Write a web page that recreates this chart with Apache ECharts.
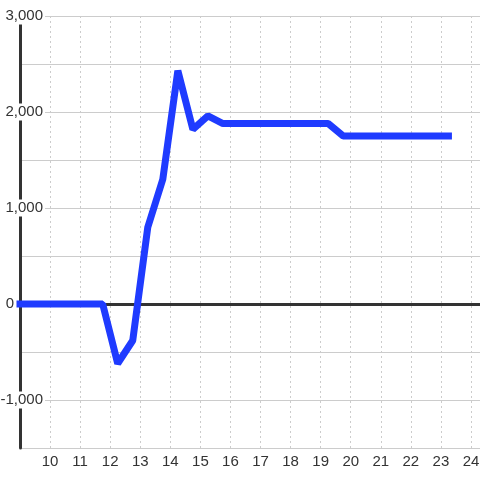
<!DOCTYPE html>
<html>
<head>
<meta charset="utf-8">
<script src="https://cdn.jsdelivr.net/npm/echarts@6/dist/echarts.min.js"></script>
<style>
html,body{margin:0;padding:0;background:#ffffff;}
#chart{width:480px;height:480px;}
</style>
</head>
<body>
<div id="chart"></div>
<script>
const xValues = [9, 9.25, 9.75, 10.25, 10.75, 11.25, 11.75, 12.25, 12.75, 13.25, 13.75, 14.25, 14.75, 15.25, 15.75, 16.25, 16.75, 17.25, 17.75, 18.25, 18.75, 19.25, 19.75, 20.25, 20.75, 21.25, 21.75, 22.25, 22.75, 23.25];
const yValues = [0, 0, 0, 0, 0, 0, 0, -620, -380, 800, 1300, 2430, 1820, 1960, 1880, 1880, 1880, 1880, 1880, 1880, 1880, 1880, 1750, 1750, 1750, 1750, 1750, 1750, 1750, 1750];
const xTickLabels = [10, 11, 12, 13, 14, 15, 16, 17, 18, 19, 20, 21, 22, 23, 24];
const yTickLabels = [3000, 2000, 1000, 0, -1000];

const chart = echarts.init(document.getElementById('chart'), null, {renderer: 'canvas'});
const font = 'Liberation Sans';
const fmtThousands = v => (v < 0 ? '-' : '') + Math.abs(v).toLocaleString('en-US');

chart.setOption({
  backgroundColor: '#ffffff',
  animation: false,
  grid: {left: 20, right: 0, top: 16, bottom: 32, containLabel: false, outerBoundsMode: 'none'},
  xAxis: [{
    type: 'value', min: 9, max: 24.3, interval: 1,
    axisLine: {show: false, onZero: false},
    axisTick: {show: false},
    axisLabel: {
      color: '#333', fontFamily: font, fontSize: 15, margin: 6,
      showMinLabel: false,
      formatter: v => xTickLabels.indexOf(v) >= 0 ? String(v) : ''
    },
    splitLine: {show: true, lineStyle: {color: '#cccccc', width: 1, type: [2, 3]}}
  }, {
    type: 'value', min: 9, max: 24.3, interval: 1,
    axisLine: {show: true, onZero: true, onZeroAxisIndex: 0, lineStyle: {color: '#333', width: 3}},
    axisTick: {show: false},
    axisLabel: {show: false},
    splitLine: {show: false}
  }],
  yAxis: {
    type: 'value', min: -1500, max: 3000, interval: 500,
    axisLine: {show: true, onZero: false, lineStyle: {color: '#333', width: 3}},
    axisTick: {show: false},
    axisLabel: {
      color: '#333', fontFamily: font, fontSize: 15, margin: -25,
      formatter: v => {
        if (yTickLabels.indexOf(v) < 0) return '';
        if (v === 0) return '{z|0}';
        return '{a|' + fmtThousands(v) + '}';
      },
      rich: {
        a: {color: '#333', fontFamily: font, fontSize: 15, backgroundColor: '#ffffff', padding: [1, 2, 1, 2]},
        z: {color: '#333', fontFamily: font, fontSize: 15, padding: [0, 31, 0, 0]}
      }
    },
    splitLine: {show: true, lineStyle: {color: '#cccccc', width: 1}}
  },
  series: [{
    type: 'line',
    xAxisIndex: 0,
    data: xValues.map((x, i) => [x, yValues[i]]),
    showSymbol: false,
    clip: false,
    lineStyle: {color: '#1f3bff', width: 7, cap: 'square', join: 'bevel'}
  }]
});
</script>
</body>
</html>
